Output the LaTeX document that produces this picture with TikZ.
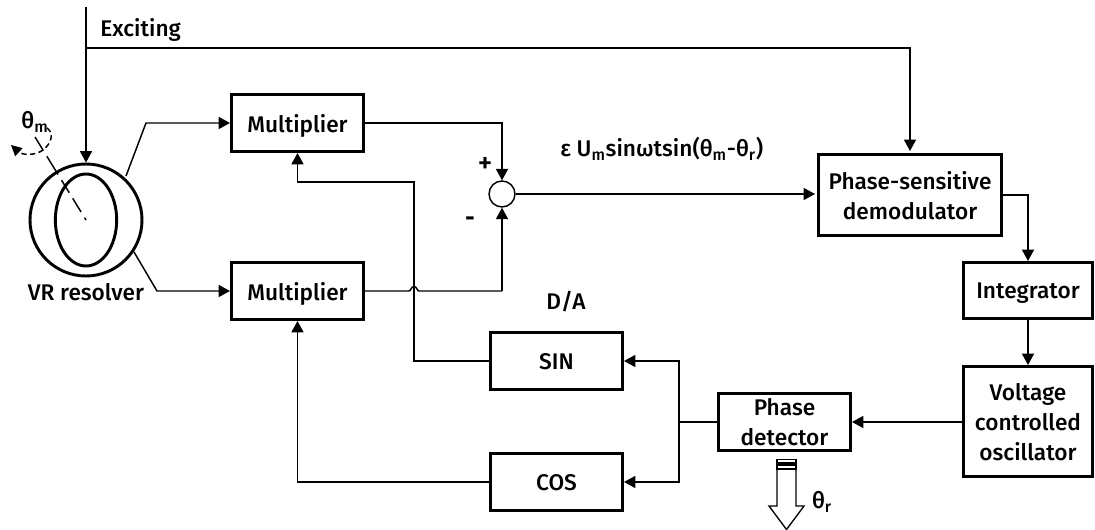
\documentclass[tikz,border=0pt]{standalone}
\usepackage{fontspec}
\setmainfont{Fira Sans}[UprightFont=* Medium]
\usetikzlibrary{arrows.meta,shapes.geometric}
\tikzset{
 x=0.75pt,y=-0.75pt,
 every node/.style={font=\fontsize{17}{22.5}\selectfont,text=black},
 blk/.style={draw=black,line width=2.4pt,align=center,inner sep=0pt,text depth=0pt},
 wire/.style={draw=black,line width=1.1pt},
 arr/.style={wire,-{Triangle[length=8.5pt,width=9pt]}},
 lbl/.style={inner sep=0pt,align=center}
}
\newcommand{\bx}[6]{\node[blk,minimum width=#4*0.75pt-#2*0.75pt-2.4pt,minimum height=#5*0.75pt-#3*0.75pt-2.4pt,anchor=center] (#1) at ({(#2+#4)/2},{(#3+#5)/2}) {#6};}
\begin{document}
\begin{tikzpicture}
\useasboundingbox (0,0) rectangle (1095,530);
\bx{mA}{230}{93}{365}{153}{Multiplier}
\bx{mB}{230}{261}{365}{321}{Multiplier}
\bx{psd}{817}{153}{1003}{237}{Phase-sensitive\\demodulator}
\bx{integ}{962}{261}{1094}{320}{Integrator}
\bx{vco}{962}{365}{1094}{478}{Voltage\\controlled\\oscillator}
\bx{pd}{717}{392}{852}{452}{Phase\\detector}
\bx{sin}{489}{331}{624}{391}{SIN}
\bx{cos}{489}{452}{624}{512}{COS}
% sum
\node[draw=black,line width=1.1pt,circle,minimum size=19.5pt,inner sep=0pt] (sum) at (502,194) {};
% resolver
\node[draw=black,line width=2.2pt,circle,minimum size=84pt,inner sep=0pt] (res) at (86,220) {};
\node[draw=black,line width=2.2pt,ellipse,minimum width=46pt,minimum height=69pt,inner sep=0pt] (rot) at (86,220) {};
% labels
\node[lbl,anchor=west] (exc) at (100,30) {Exciting};
\node[lbl] (res-l) at (86,292) {VR resolver};
\node[lbl] (th-m) at (35,122) {θ\textsubscript{m}};
\node[lbl,anchor=west] (eq) at (560,149) {ε U\textsubscript{m}sinωtsin(θ\textsubscript{m}-θ\textsubscript{r})};
\node[lbl,font=\fontsize{21}{22}\selectfont] (plus) at (485,165) {+};
\node[lbl] (minus) at (470,221) {\textbf{-}};
\node[lbl] (da) at (566,302) {D/A};
\node[lbl] (th-r) at (822,502) {θ\textsubscript{r}};
% exciting wires
\coordinate (top) at (86,7);
\coordinate (j) at (86,48);
\draw[arr] (top) -- (res.north);
\draw[arr] (j) -- (910,48) -- (910,151);
% resolver to multipliers
\draw[arr] (126,176) -- (146,123) -- (mA.west);
\draw[arr] (134,252) -- (157,291) -- (mB.west);
% sum connections
\draw[arr] (mA.east) -- (502,123) -- (sum.north);
\draw[wire] (mB.east) -- (409,291) .. controls (411,291) and (411,286.5) .. (414,286.5) .. controls (417,286.5) and (417,291) .. (419,291) -- (502,291);
\draw[arr] (502,291) -- (sum.south);
\draw[arr] (sum.east) -- (815,194);
% chain
\draw[arr] (psd.east |- 0,195) -- (1028,195) -- (integ.north);
\draw[arr] (integ.south) -- (vco.north);
\draw[arr] (vco.west |- 0,422) -- (pd.east);
\draw[wire] (pd.west) -- (679,422);
\draw[arr] (679,422) -- (679,361) -- (sin.east);
\draw[arr] (679,422) -- (679,482) -- (cos.east);
% feedback
\draw[arr] (sin.west) -- (414,361) -- (414,182) -- (297.5,182) -- (mA.south);
\draw[arr] (cos.west) -- (297.5,482) -- (mB.south);
% output arrow
\draw[draw=black,line width=1pt] (777,459.5) rectangle (796,463);
\draw[draw=black,line width=1pt] (777,465) rectangle (796,469);
\draw[draw=black,line width=1pt] (777,470) -- (777,506) -- (769,506) -- (786.5,529.5) -- (804,506) -- (796,506) -- (796,470);
% shaft and rotation
\draw[wire,dash pattern=on 12pt off 5pt on 16pt off 5pt on 11pt off 5pt] (35,137) -- (86,220);
\draw[wire,dash pattern=on 4pt off 2.5pt,-{Triangle[length=8pt,width=8pt]}] (47,128) .. controls (54,133) and (52,143) .. (43,150) .. controls (35,156) and (22,155) .. (11,145);
\end{tikzpicture}
\end{document}
